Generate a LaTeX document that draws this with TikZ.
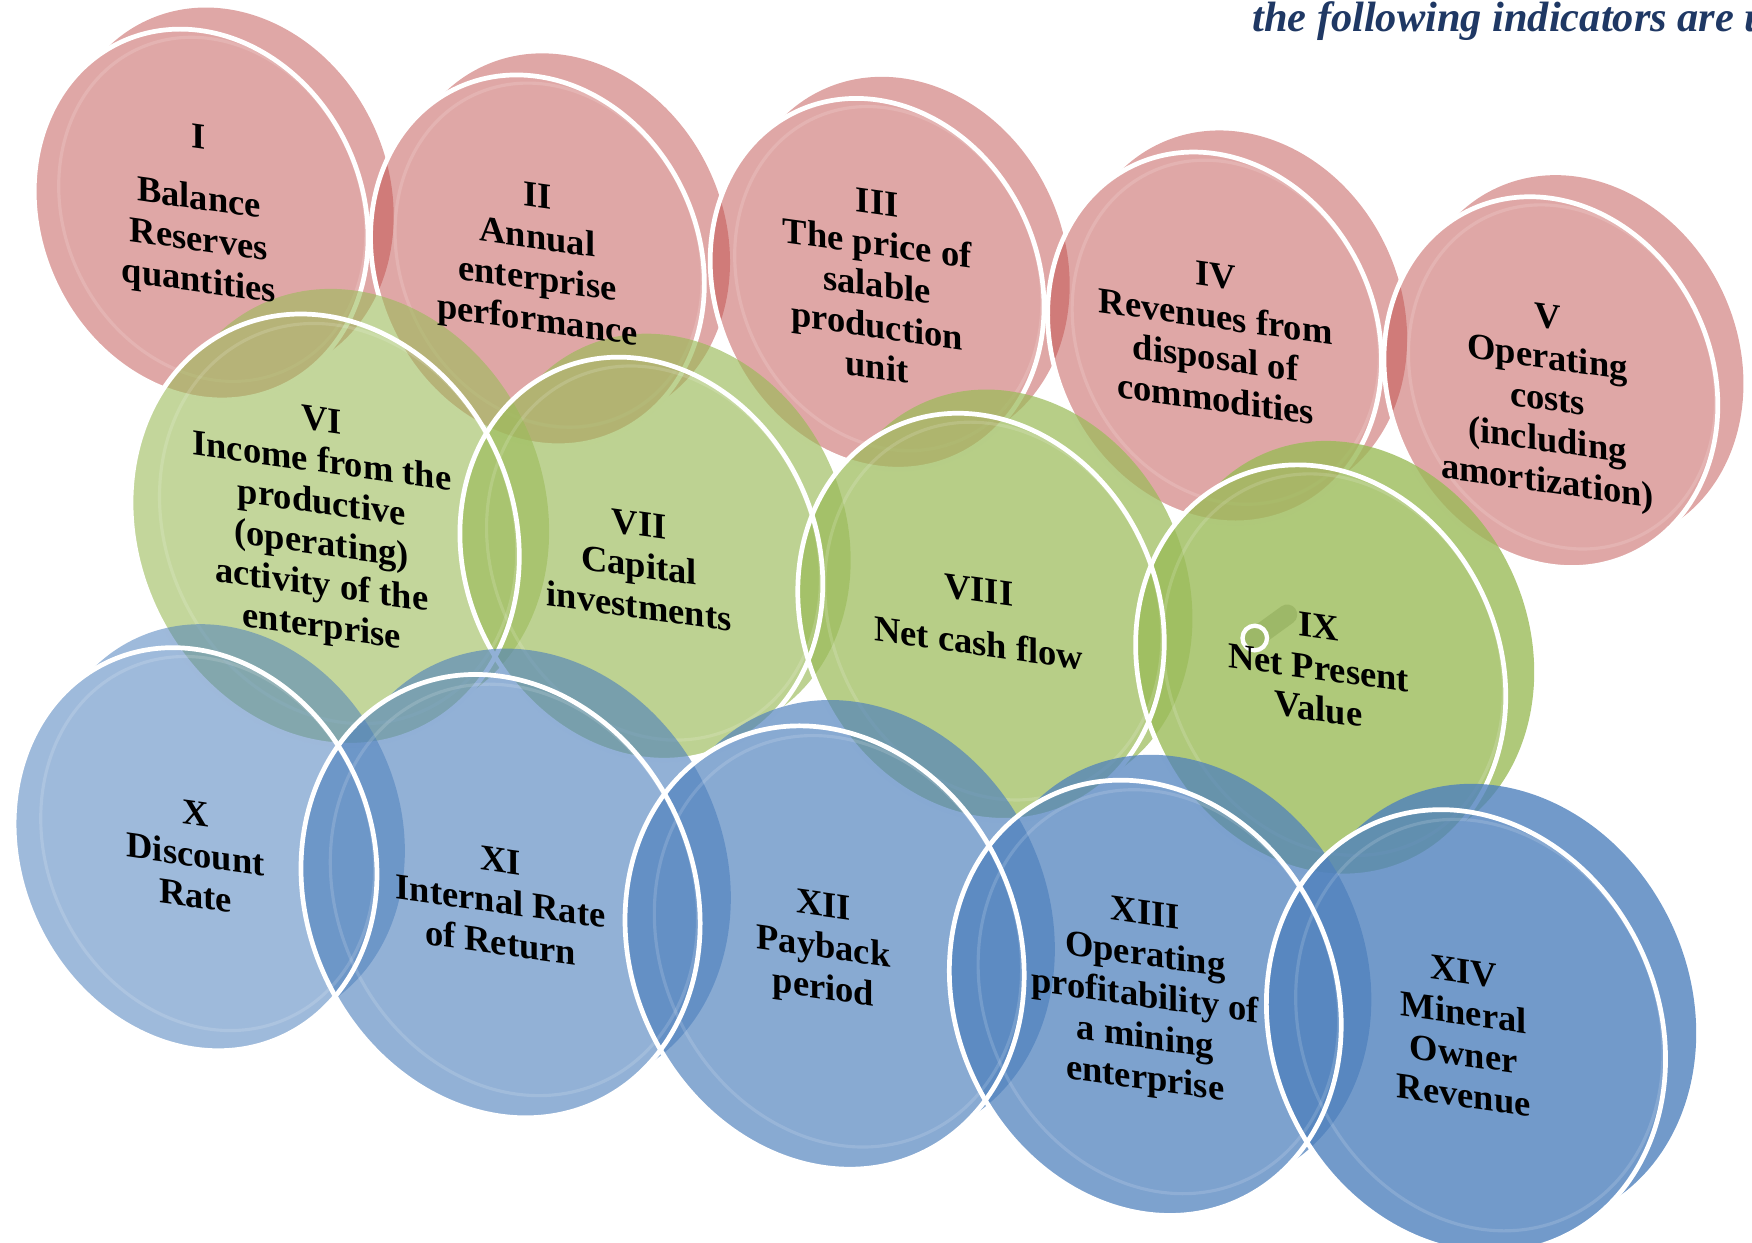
\documentclass[tikz,border=0pt]{standalone}
\usepackage{fontspec}
\setmainfont{Liberation Serif}
\definecolor{redacc}{HTML}{C0504D}
\definecolor{greenacc}{HTML}{9BBB59}
\definecolor{blueacc}{HTML}{4F81BD}
\definecolor{titleblue}{HTML}{1F3864}
\tikzset{
  disksize/.style={x radius=157, y radius=185},
  disk at/.style 2 args={shift={(#1)}, scale=#2, rotate=25},
  ring/.style={draw=white, line width=1.2pt},
  bevel/.style={draw=white, draw opacity=0.14, line width=0.8pt},
  disktext/.style={font=\bfseries\fontsize{9.3}{10.5}\selectfont, align=center, yslant=-0.14, inner sep=0pt}
}
\begin{document}
\begin{tikzpicture}[x=0.1mm, y=-0.1mm]
  \useasboundingbox (0,0) rectangle (1568,1112);
  \clip (0,0) rectangle (1568,1112);
  % centres of the disks
  \foreach \n/\x/\y in {1/180/192, 2/481/233, 3/785/254, 4/1087/302, 5/1388/342,
                        6/291/474, 7/574/500, 8/878/552, 9/1182/600,
                        10/175/760, 11/448/802, 12/738/848, 13/1025/893, 14/1312/923}
    \coordinate (d\n) at (\x,\y);

  % red row
  \foreach \n in {1,...,5}
    \fill[redacc, fill opacity=.5, disk at={d\n}{.92}] (0,0) ellipse[disksize] (31.5,-8.5) ellipse[disksize];
  \foreach \n in {1,...,5}
    \draw[bevel, disk at={d\n}{.92}] (12,0) ellipse[x radius=144, y radius=172];
  \foreach \n in {1,...,5}
    \draw[ring, disk at={d\n}{.92}] (0,0) ellipse[disksize];

  % green row
  \foreach \n/\s/\o in {6/1.07/.6, 7/1/.66, 8/1.01/.72, 9/1.02/.8}
    \fill[greenacc, fill opacity=\o, disk at={d\n}{\s}] (0,0) ellipse[disksize] (31.5,-8.5) ellipse[disksize];
  \foreach \n/\s in {6/1.07, 7/1, 8/1.01, 9/1.02}
    \draw[bevel, disk at={d\n}{\s}] (12,0) ellipse[x radius=144, y radius=172];
  \foreach \n/\s in {6/1.07, 7/1, 8/1.01, 9/1.02}
    \draw[ring, disk at={d\n}{\s}] (0,0) ellipse[disksize];

  % blue row
  \foreach \n/\s/\o in {10/1/.55, 11/1.1/.62, 12/1.1/.68, 13/1.08/.74, 14/1.1/.8}
    \fill[blueacc, fill opacity=\o, disk at={d\n}{\s}] (0,0) ellipse[disksize] (31.5,-8.5) ellipse[disksize];
  \foreach \n/\s in {10/1, 11/1.1, 12/1.1, 13/1.08, 14/1.1}
    \draw[bevel, disk at={d\n}{\s}] (12,0) ellipse[x radius=144, y radius=172];
  \foreach \n/\s in {10/1, 11/1.1, 12/1.1, 13/1.08, 14/1.1}
    \draw[ring, disk at={d\n}{\s}] (0,0) ellipse[disksize];

  % handle on IX
  \coordinate (h1) at (1123,571);
  \coordinate (h2) at (1152,550);
  \draw[greenacc!85!black, opacity=.4, line width=1.8mm, line cap=round] (h1) -- (h2);
  \draw[white, line width=1.1pt] (h1) circle[radius=11];

  % texts
  \node[disktext] (t1) at (178,190) {I\\[5pt]Balance\\Reserves\\quantities};
  \node[disktext] (t2) at (481,234) {II\\Annual\\enterprise\\performance};
  \node[disktext] (t3) at (785,255) {III\\The price of\\salable\\production\\unit};
  \node[disktext] (t4) at (1088,302) {IV\\Revenues from\\disposal of\\commodities};
  \node[disktext] (t5) at (1385,360) {V\\Operating\\costs\\(including\\amortization)};
  \node[disktext] (t6) at (288,471) {VI\\Income from the\\productive\\(operating)\\activity of the\\enterprise};
  \node[disktext] (t7) at (572,506) {VII\\Capital\\investments};
  \node[disktext] (t8) at (876,552) {VIII\\[3pt]Net cash flow};
  \node[disktext] (t9) at (1180,598) {IX\\Net Present\\Value};
  \node[disktext] (t10) at (175,765) {X\\Discount\\Rate};
  \node[disktext] (t11) at (448,807) {XI\\Internal Rate\\of Return};
  \node[disktext] (t12) at (737,850) {XII\\Payback\\period};
  \node[disktext] (t13) at (1025,894) {XIII\\Operating\\profitability of\\a mining\\enterprise};
  \node[disktext] (t14) at (1310,925) {XIV\\Mineral\\Owner\\Revenue};

  \node[font=\bfseries\itshape\fontsize{10.8}{12}\selectfont, text=titleblue, anchor=base west, inner sep=0pt] (title) at (1120,28) {the following indicators are u};
\end{tikzpicture}
\end{document}
